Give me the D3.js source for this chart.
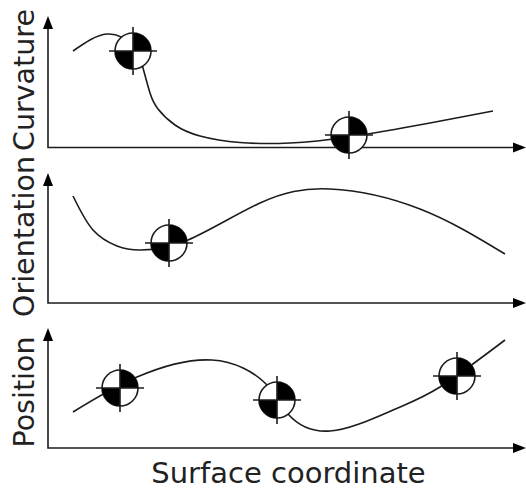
<!DOCTYPE html>
<html><head><meta charset="utf-8">
<style>html,body{margin:0;padding:0;background:#fff}svg{display:block}</style>
<script src="https://cdn.jsdelivr.net/npm/d3@7/dist/d3.min.js"></script>
</head><body><svg id="c" width="526" height="490"></svg>
<script>
// All values: [surface coordinate, quantity], measured from each panel's axis origin
const xLabel = "Surface coordinate";
const panelNames = ["Curvature", "Orientation", "Position"];
const curvature = [[25,96.5],[59,113.5],[85,101],[95,79.5],[102,54.5],[110,38.5],[127,22.5],[152,11.5],[192,5],[242,4.5],[300,10.5],[382,24.5],[445,36.5]];
const orientation = [[25,107],[45,73],[69,57],[92,53],[140,63],[212,100],[282,114],[372,94],[457,49]];
const position = [[25,36],[89,71],[164,88],[217,65],[240,34],[282,17],[345,38],[392,61],[457,108]];
const curvatureTargets = [[85,96.5],[301,12.5]];
const orientationTargets = [[121,60]];
const positionTargets = [[72,60],[229,48],[409,72]];

const svg = d3.select("#c");
const INK = "#1c1c1c";
const FONT = "'DejaVu Sans', Verdana, sans-serif";
const x = d3.scaleLinear().domain([0,478]).range([48,526]);
const panels = [
  {name:panelNames[0], data:curvature, targets:curvatureTargets, base:147.5, top:16, h:131.5, labelY:80},
  {name:panelNames[1], data:orientation, targets:orientationTargets, base:303, top:173, h:130, labelY:236.5},
  {name:panelNames[2], data:position, targets:positionTargets, base:448, top:328, h:120, labelY:392}
];
const R = 18;
panels.forEach(p=>{
  const y = d3.scaleLinear().domain([0,p.h]).range([p.base,p.top]);
  const line = d3.line().x(d=>x(d[0])).y(d=>y(d[1])).curve(d3.curveNatural);
  svg.append("path").attr("d",line(p.data)).attr("fill","none").attr("stroke",INK).attr("stroke-width",1.6);

  // axes
  svg.append("path").attr("d",d3.line()([[x(0),p.top+6],[x(0),p.base],[x(470),p.base]]))
    .attr("fill","none").attr("stroke",INK).attr("stroke-width",1.6);
  svg.append("path").attr("d",d3.line()([[x(0)-5,p.top+13],[x(0),p.top],[x(0)+5,p.top+13]])+"Z").attr("fill","#000");
  svg.append("path").attr("d",d3.line()([[x(478)-13,p.base-5],[x(478),p.base],[x(478)-13,p.base+5]])+"Z").attr("fill","#000");

  // targets
  p.targets.forEach(t=>{
    const g = svg.append("g").attr("transform",`translate(${x(t[0])},${y(t[1])})`);
    g.append("circle").attr("r",R).attr("fill","#fff").attr("stroke",INK).attr("stroke-width",1.6);
    const arc = d3.arc().innerRadius(0).outerRadius(R);
    g.append("path").attr("d",arc({startAngle:0,endAngle:Math.PI/2})).attr("fill","#000");
    g.append("path").attr("d",arc({startAngle:Math.PI,endAngle:Math.PI*1.5})).attr("fill","#000");
    g.append("path").attr("d",`M${-R-6},0H${R+6}M0,${-R-6}V${R+6}`).attr("stroke",INK).attr("stroke-width",1.6);
  });

  svg.append("text").attr("transform",`translate(34,${p.labelY}) rotate(-90)`)
    .attr("text-anchor","middle").attr("font-family",FONT).attr("font-size",28.5).attr("fill","#222").text(p.name);
});
svg.append("text").attr("x",288.5).attr("y",483).attr("text-anchor","middle")
  .attr("font-family",FONT).attr("font-size",29).attr("fill","#222").text(xLabel);
</script></body></html>
